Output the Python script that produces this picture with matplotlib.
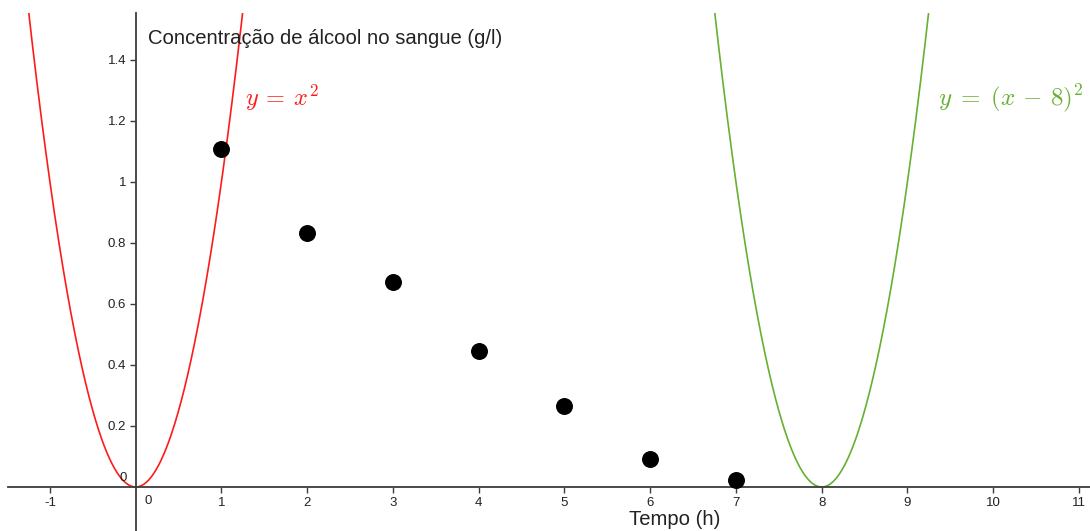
import numpy as np
import matplotlib.pyplot as plt

# tempo (h) e concentração (g/l)
tempo = [1, 2, 3, 4, 5, 6, 7]
concentracao = [1.108, 0.832, 0.673, 0.447, 0.266, 0.091, 0.023]

x_ticks = [-1, 1, 2, 3, 4, 5, 6, 7, 8, 9, 10, 11]
y_ticks = [0.2, 0.4, 0.6, 0.8, 1.0, 1.2, 1.4]
y_labels = ['0.2', '0.4', '0.6', '0.8', '1', '1.2', '1.4']

plt.rcParams['font.family'] = ['Liberation Sans', 'DejaVu Sans']
plt.rcParams['mathtext.fontset'] = 'cm'

fig = plt.figure(figsize=(10.9, 5.31), dpi=100)
ax = fig.add_axes([8 / 1090, 0, 1082 / 1090, 518 / 531])
ax.set_xlim(-1.489, 11.129)
ax.set_ylim(-0.1443, 1.554)

axis_col = '#3c3c3c'
for s in ['top', 'right']:
    ax.spines[s].set_visible(False)
ax.spines['left'].set_position(('data', 0))
ax.spines['bottom'].set_position(('data', 0))
ax.spines['left'].set_color(axis_col)
ax.spines['bottom'].set_color(axis_col)
ax.spines['left'].set_linewidth(1.3)
ax.spines['bottom'].set_linewidth(1.3)

ax.set_xticks(x_ticks)
ax.set_xticklabels([str(v) for v in x_ticks])
ax.set_yticks(y_ticks)
ax.set_yticklabels(y_labels)
ax.tick_params(axis='both', direction='out', length=4, width=1, color=axis_col,
               labelsize=9.5, labelcolor='#222222', pad=3)
ax.text(0.1, -0.025, '0', fontsize=9.5, color='#222222', ha='left', va='top')
ax.text(-0.1, 0.01, '0', fontsize=9.5, color='#222222', ha='right', va='bottom')

xs = np.linspace(-1.6, 1.4, 400)
ax.plot(xs, xs ** 2, color='#ff1a1a', lw=1.2)
xs2 = np.linspace(6.6, 9.4, 400)
ax.plot(xs2, (xs2 - 8) ** 2, color='#66b032', lw=1.2)

ax.scatter(tempo, concentracao, s=125, color='black', zorder=5)

ax.text(0.14, 1.47, 'Concentração de álcool no sangue (g/l)', fontsize=14.6,
        color='#222222', ha='left', va='center')
ax.text(6.28, -0.108, 'Tempo (h)', fontsize=14.6, color='#222222', ha='center', va='center')
ax.text(1.27, 1.275, r'$y\:=\:x^2$', fontsize=17.5, color='#ff1a1a', ha='left', va='center')
ax.text(9.36, 1.275, r'$y\;=\;(x\,-\,8)^2$', fontsize=18, color='#66b032', ha='left', va='center')

fig.savefig('out.png', dpi=100)
